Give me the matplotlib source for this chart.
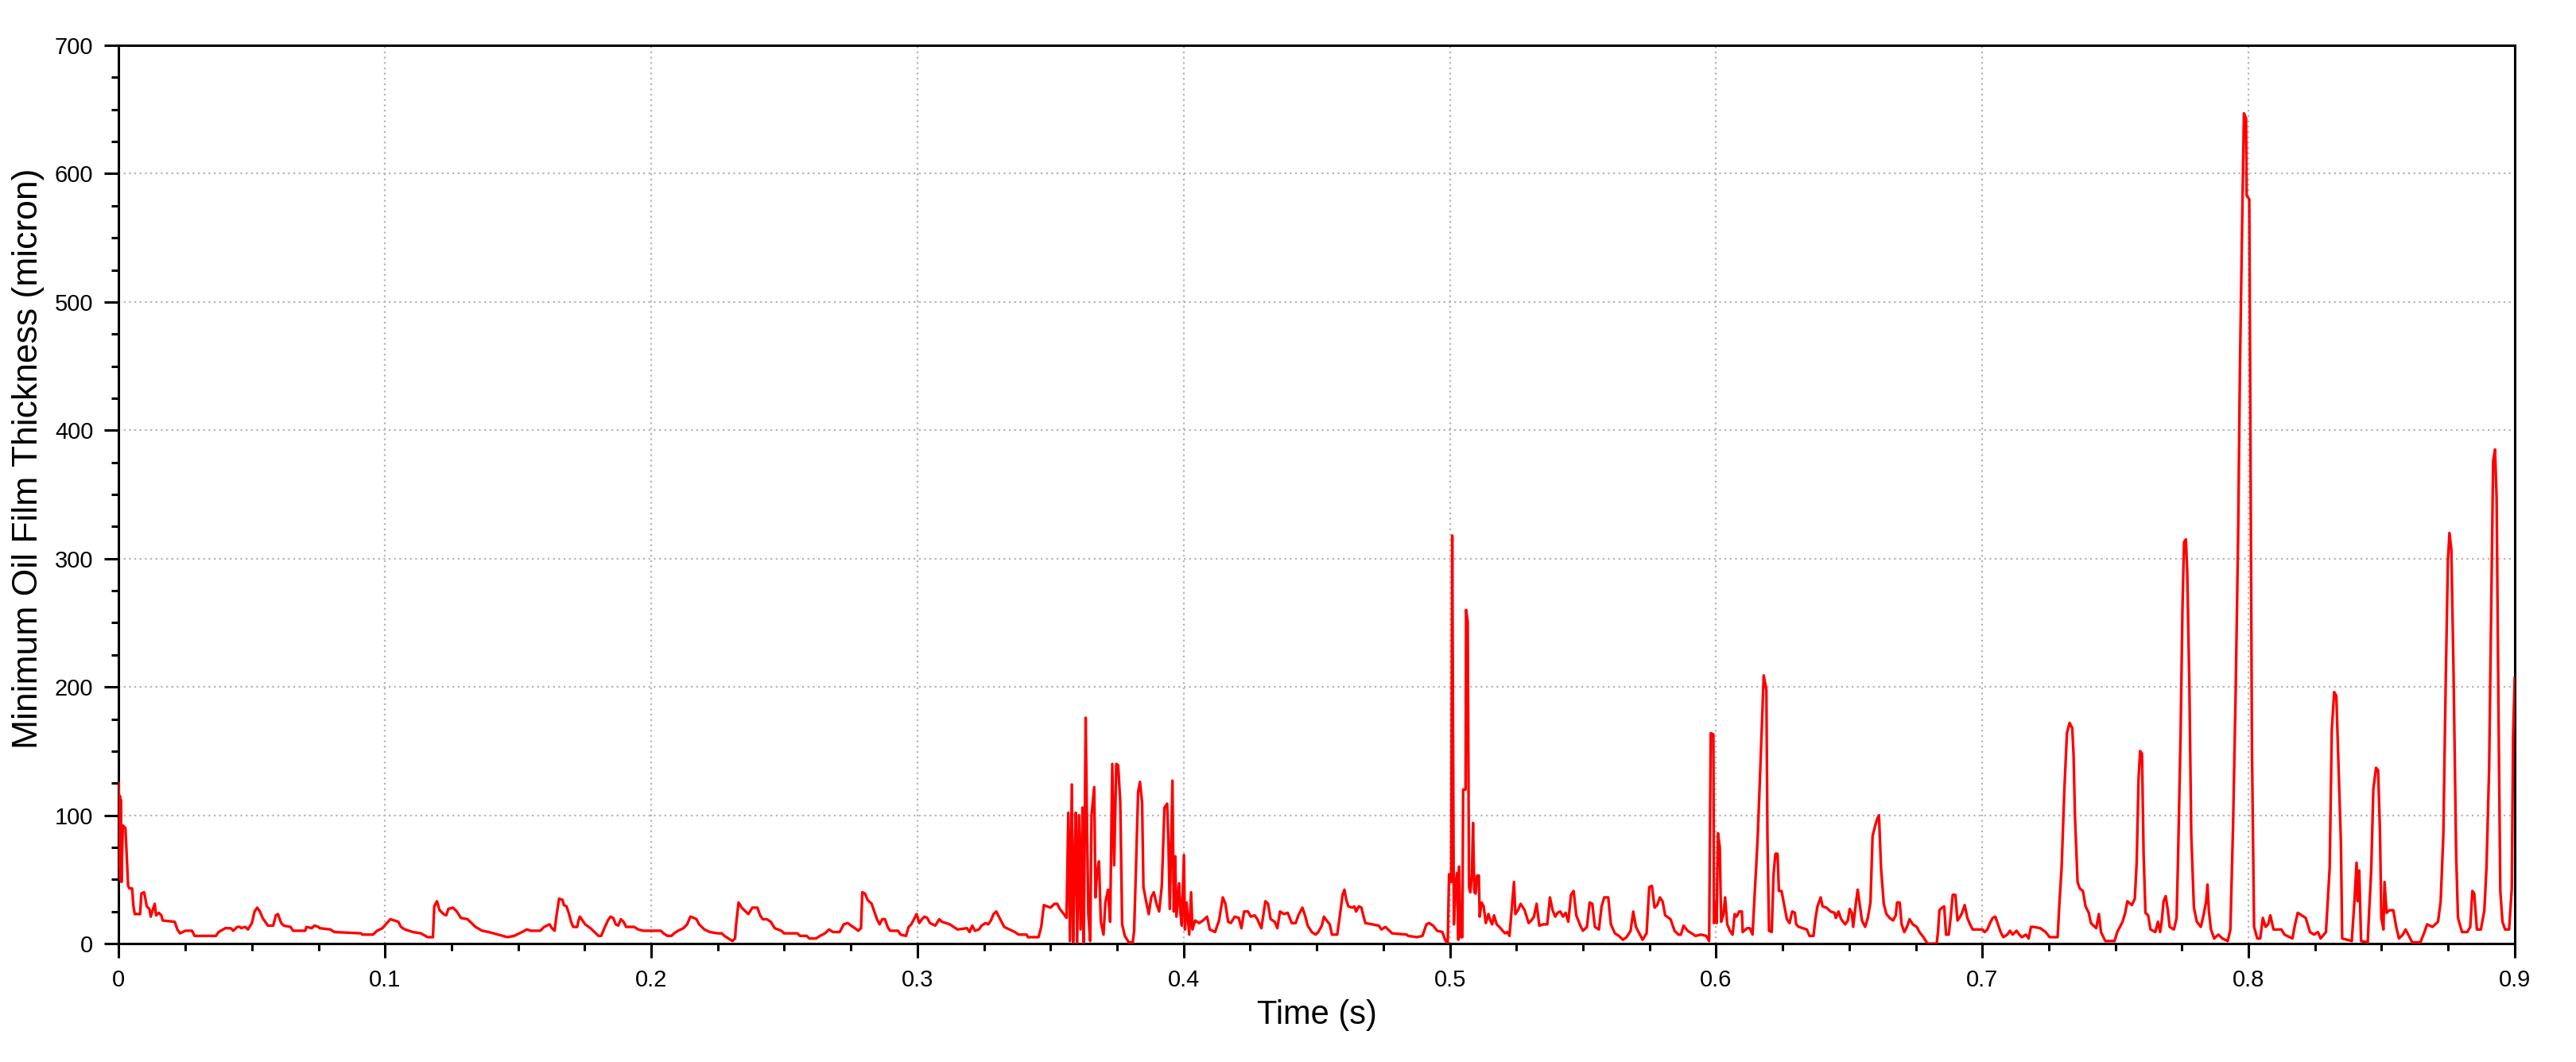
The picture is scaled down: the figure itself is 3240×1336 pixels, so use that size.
import matplotlib
matplotlib.use("Agg")
import matplotlib.pyplot as plt
from matplotlib.ticker import MultipleLocator

plt.rcParams['font.family'] = ['Liberation Sans', 'DejaVu Sans']

# time (s) and minimum oil film thickness (micron)
time_s = [
    0.0000, 0.0002, 0.0004, 0.0006, 0.0008, 0.0010, 0.0015, 0.0025, 0.0035, 0.0040,
    0.0050, 0.0055, 0.0060, 0.0080, 0.0085, 0.0095, 0.0100, 0.0105, 0.0115, 0.0120,
    0.0130, 0.0135, 0.0140, 0.0150, 0.0160, 0.0165, 0.0210, 0.0220, 0.0230, 0.0250,
    0.0275, 0.0285, 0.0365, 0.0375, 0.0400, 0.0420, 0.0430, 0.0445, 0.0455, 0.0460,
    0.0475, 0.0485, 0.0500, 0.0510, 0.0520, 0.0530, 0.0540, 0.0560, 0.0580, 0.0590,
    0.0598, 0.0610, 0.0620, 0.0645, 0.0655, 0.0700, 0.0705, 0.0725, 0.0735, 0.0750,
    0.0755, 0.0795, 0.0810, 0.0910, 0.0915, 0.0955, 0.0970, 0.0990, 0.1020, 0.1035,
    0.1050, 0.1060, 0.1075, 0.1105, 0.1135, 0.1160, 0.1180, 0.1185, 0.1195, 0.1205,
    0.1220, 0.1230, 0.1238, 0.1255, 0.1270, 0.1285, 0.1310, 0.1320, 0.1340, 0.1365,
    0.1390, 0.1425, 0.1460, 0.1485, 0.1515, 0.1533, 0.1548, 0.1583, 0.1598, 0.1618,
    0.1627, 0.1637, 0.1645, 0.1654, 0.1667, 0.1672, 0.1682, 0.1690, 0.1699, 0.1707,
    0.1722, 0.1727, 0.1732, 0.1742, 0.1752, 0.1772, 0.1787, 0.1802, 0.1812, 0.1822,
    0.1837, 0.1847, 0.1857, 0.1867, 0.1876, 0.1886, 0.1896, 0.1906, 0.1936, 0.1951,
    0.1971, 0.2036, 0.2046, 0.2061, 0.2076, 0.2086, 0.2101, 0.2121, 0.2135, 0.2147,
    0.2160, 0.2170, 0.2180, 0.2200, 0.2220, 0.2250, 0.2265, 0.2275, 0.2290, 0.2305,
    0.2315, 0.2318, 0.2328, 0.2340, 0.2355, 0.2365, 0.2380, 0.2399, 0.2409, 0.2419,
    0.2434, 0.2449, 0.2464, 0.2489, 0.2499, 0.2549, 0.2559, 0.2584, 0.2594, 0.2619,
    0.2634, 0.2653, 0.2668, 0.2683, 0.2708, 0.2723, 0.2738, 0.2758, 0.2778, 0.2788,
    0.2793, 0.2803, 0.2813, 0.2828, 0.2838, 0.2848, 0.2858, 0.2868, 0.2878, 0.2888,
    0.2897, 0.2927, 0.2937, 0.2957, 0.2967, 0.2977, 0.2987, 0.2997, 0.3007, 0.3017,
    0.3027, 0.3037, 0.3047, 0.3067, 0.3082, 0.3092, 0.3122, 0.3136, 0.3151, 0.3186,
    0.3196, 0.3206, 0.3216, 0.3231, 0.3241, 0.3256, 0.3266, 0.3276, 0.3286, 0.3296,
    0.3306, 0.3316, 0.3326, 0.3346, 0.3366, 0.3380, 0.3410, 0.3415, 0.3455, 0.3465,
    0.3475, 0.3500, 0.3515, 0.3525, 0.3535, 0.3550, 0.3560, 0.3567, 0.3573, 0.3580,
    0.3585, 0.3590, 0.3595, 0.3600, 0.3607, 0.3613, 0.3620, 0.3625, 0.3632, 0.3636,
    0.3642, 0.3649, 0.3654, 0.3664, 0.3669, 0.3674, 0.3682, 0.3689, 0.3699, 0.3706,
    0.3716, 0.3724, 0.3732, 0.3739, 0.3747, 0.3754, 0.3762, 0.3769, 0.3779, 0.3794,
    0.3809, 0.3814, 0.3819, 0.3829, 0.3836, 0.3844, 0.3849, 0.3859, 0.3869, 0.3878,
    0.3888, 0.3898, 0.3908, 0.3918, 0.3928, 0.3938, 0.3943, 0.3948, 0.3953, 0.3958,
    0.3963, 0.3968, 0.3973, 0.3983, 0.3988, 0.3993, 0.4001, 0.4005, 0.4011, 0.4021,
    0.4028, 0.4033, 0.4043, 0.4058, 0.4073, 0.4088, 0.4098, 0.4118, 0.4133, 0.4147,
    0.4157, 0.4167, 0.4177, 0.4192, 0.4207, 0.4217, 0.4227, 0.4242, 0.4252, 0.4267,
    0.4277, 0.4292, 0.4307, 0.4317, 0.4327, 0.4342, 0.4352, 0.4362, 0.4377, 0.4391,
    0.4406, 0.4421, 0.4431, 0.4446, 0.4456, 0.4466, 0.4481, 0.4496, 0.4506, 0.4519,
    0.4527, 0.4537, 0.4549, 0.4557, 0.4577, 0.4587, 0.4597, 0.4604, 0.4611, 0.4619,
    0.4634, 0.4641, 0.4648, 0.4658, 0.4668, 0.4676, 0.4683, 0.4708, 0.4733, 0.4743,
    0.4758, 0.4768, 0.4783, 0.4838, 0.4843, 0.4877, 0.4897, 0.4912, 0.4922, 0.4937,
    0.4952, 0.4972, 0.4982, 0.4992, 0.4997, 0.5005, 0.5009, 0.5015, 0.5022, 0.5027,
    0.5032, 0.5035, 0.5040, 0.5047, 0.5050, 0.5059, 0.5061, 0.5067, 0.5072, 0.5077,
    0.5083, 0.5087, 0.5092, 0.5097, 0.5102, 0.5109, 0.5112, 0.5119, 0.5127, 0.5135,
    0.5145, 0.5152, 0.5159, 0.5166, 0.5176, 0.5186, 0.5198, 0.5208, 0.5216, 0.5224,
    0.5234, 0.5241, 0.5246, 0.5256, 0.5266, 0.5281, 0.5296, 0.5306, 0.5316, 0.5326,
    0.5336, 0.5351, 0.5366, 0.5376, 0.5386, 0.5396, 0.5405, 0.5415, 0.5425, 0.5435,
    0.5445, 0.5455, 0.5465, 0.5475, 0.5490, 0.5500, 0.5515, 0.5525, 0.5535, 0.5545,
    0.5560, 0.5570, 0.5580, 0.5595, 0.5605, 0.5620, 0.5635, 0.5650, 0.5664, 0.5679,
    0.5689, 0.5699, 0.5714, 0.5724, 0.5739, 0.5749, 0.5759, 0.5769, 0.5779, 0.5789,
    0.5799, 0.5809, 0.5829, 0.5844, 0.5859, 0.5868, 0.5878, 0.5893, 0.5908, 0.5923,
    0.5943, 0.5963, 0.5974, 0.5980, 0.5990, 0.5992, 0.5997, 0.6002, 0.6007, 0.6014,
    0.6019, 0.6027, 0.6034, 0.6042, 0.6052, 0.6062, 0.6070, 0.6077, 0.6087, 0.6097,
    0.6100, 0.6117, 0.6127, 0.6137, 0.6146, 0.6156, 0.6166, 0.6173, 0.6179, 0.6189,
    0.6193, 0.6199, 0.6209, 0.6216, 0.6223, 0.6231, 0.6236, 0.6246, 0.6256, 0.6266,
    0.6276, 0.6286, 0.6296, 0.6301, 0.6311, 0.6326, 0.6341, 0.6351, 0.6366, 0.6373,
    0.6381, 0.6393, 0.6400, 0.6415, 0.6430, 0.6445, 0.6450, 0.6460, 0.6470, 0.6485,
    0.6495, 0.6502, 0.6510, 0.6515, 0.6525, 0.6532, 0.6540, 0.6548, 0.6560, 0.6570,
    0.6580, 0.6588, 0.6598, 0.6605, 0.6612, 0.6620, 0.6630, 0.6640, 0.6652, 0.6665,
    0.6675, 0.6680, 0.6690, 0.6697, 0.6707, 0.6717, 0.6727, 0.6739, 0.6754, 0.6764,
    0.6779, 0.6794, 0.6829, 0.6834, 0.6839, 0.6849, 0.6857, 0.6864, 0.6874, 0.6881,
    0.6889, 0.6899, 0.6907, 0.6917, 0.6924, 0.6934, 0.6944, 0.6954, 0.6964, 0.7001,
    0.7009, 0.7019, 0.7029, 0.7039, 0.7049, 0.7059, 0.7069, 0.7079, 0.7094, 0.7104,
    0.7114, 0.7129, 0.7139, 0.7149, 0.7164, 0.7174, 0.7183, 0.7193, 0.7218, 0.7238,
    0.7253, 0.7283, 0.7290, 0.7298, 0.7308, 0.7318, 0.7328, 0.7338, 0.7343, 0.7348,
    0.7358, 0.7366, 0.7378, 0.7388, 0.7400, 0.7408, 0.7428, 0.7438, 0.7446, 0.7462,
    0.7497, 0.7507, 0.7517, 0.7527, 0.7537, 0.7545, 0.7562, 0.7573, 0.7580, 0.7587,
    0.7593, 0.7600, 0.7606, 0.7613, 0.7623, 0.7632, 0.7650, 0.7660, 0.7668, 0.7674,
    0.7681, 0.7689, 0.7697, 0.7704, 0.7720, 0.7730, 0.7735, 0.7745, 0.7752, 0.7758,
    0.7765, 0.7770, 0.7778, 0.7785, 0.7795, 0.7806, 0.7821, 0.7831, 0.7841, 0.7846,
    0.7851, 0.7859, 0.7871, 0.7887, 0.7902, 0.7922, 0.7932, 0.7942, 0.7952, 0.7961,
    0.7968, 0.7978, 0.7983, 0.7991, 0.7993, 0.8003, 0.8008, 0.8013, 0.8021, 0.8033,
    0.8044, 0.8054, 0.8064, 0.8074, 0.8082, 0.8094, 0.8124, 0.8135, 0.8165, 0.8175,
    0.8185, 0.8200, 0.8215, 0.8231, 0.8246, 0.8261, 0.8271, 0.8291, 0.8305, 0.8313,
    0.8322, 0.8330, 0.8337, 0.8347, 0.8352, 0.8388, 0.8398, 0.8406, 0.8410, 0.8416,
    0.8423, 0.8448, 0.8453, 0.8461, 0.8469, 0.8479, 0.8487, 0.8494, 0.8499, 0.8507,
    0.8511, 0.8519, 0.8529, 0.8544, 0.8555, 0.8565, 0.8580, 0.8590, 0.8600, 0.8615,
    0.8646, 0.8661, 0.8671, 0.8691, 0.8712, 0.8722, 0.8732, 0.8740, 0.8749, 0.8755,
    0.8762, 0.8770, 0.8780, 0.8787, 0.8802, 0.8822, 0.8833, 0.8841, 0.8848, 0.8858,
    0.8873, 0.8886, 0.8894, 0.8904, 0.8912, 0.8919, 0.8926, 0.8932, 0.8939, 0.8946,
    0.8954, 0.8964, 0.8979, 0.8989, 0.8994, 0.9000,
]

film_um = [
    125, 60, 115, 50, 112, 48, 92, 90, 45, 43,
    43, 29, 23, 23, 39, 40, 35, 29, 27, 21,
    28, 31, 22, 24, 22, 18, 17, 11, 8, 10,
    10, 6, 6, 9, 12, 12, 10, 13, 13, 12,
    13, 11, 16, 25, 28, 25, 20, 14, 14, 22,
    23, 16, 14, 13, 10, 10, 13, 12, 14, 13,
    12, 11, 9, 8, 7, 7, 10, 12, 19, 18,
    17, 13, 11, 9, 8, 5, 5, 29, 33, 26,
    23, 22, 27, 28, 25, 20, 19, 17, 13, 10,
    9, 7, 5, 6, 9, 11, 10, 10, 13, 15,
    12, 10, 23, 35, 34, 30, 29, 24, 17, 13,
    13, 18, 21, 18, 15, 12, 9, 6, 6, 11,
    18, 21, 20, 15, 14, 19, 17, 13, 13, 11,
    10, 10, 8, 6, 6, 8, 10, 12, 15, 21,
    20, 19, 15, 11, 9, 8, 8, 6, 4, 2,
    4, 13, 32, 28, 25, 23, 28, 28, 22, 19,
    19, 17, 12, 10, 8, 8, 6, 6, 4, 4,
    6, 8, 11, 9, 9, 15, 16, 13, 10, 12,
    40, 39, 34, 31, 25, 19, 15, 19, 19, 13,
    10, 10, 7, 6, 13, 15, 19, 23, 16, 19,
    21, 20, 16, 14, 19, 17, 15, 13, 11, 12,
    9, 14, 10, 11, 14, 16, 15, 18, 23, 25,
    21, 17, 13, 11, 9, 7, 7, 5, 5, 13,
    30, 28, 31, 31, 27, 23, 20, 102, 2, 124,
    1, 61, 102, 0, 100, 11, 106, 0, 176, 109,
    23, 2, 100, 122, 36, 54, 64, 17, 7, 32,
    42, 17, 140, 61, 140, 139, 110, 15, 6, 1,
    1, 10, 45, 118, 126, 110, 44, 33, 23, 36,
    40, 31, 25, 45, 106, 109, 78, 27, 77, 127,
    25, 68, 21, 47, 24, 14, 69, 11, 32, 7,
    40, 11, 18, 16, 18, 21, 11, 9, 18, 36,
    31, 17, 16, 21, 20, 12, 25, 25, 21, 22,
    19, 12, 33, 31, 19, 17, 12, 25, 23, 24,
    16, 16, 22, 28, 22, 14, 9, 7, 9, 14,
    21, 18, 15, 7, 7, 22, 38, 42, 34, 29,
    28, 29, 25, 29, 28, 21, 16, 15, 14, 11,
    13, 11, 8, 7, 6, 5, 6, 15, 16, 14,
    10, 9, 3, 0, 54, 48, 318, 15, 47, 55,
    3, 60, 5, 5, 120, 120, 260, 251, 44, 40,
    54, 94, 40, 39, 53, 53, 21, 32, 29, 16,
    23, 18, 15, 22, 15, 13, 10, 8, 9, 6,
    31, 48, 23, 26, 31, 26, 16, 18, 21, 31,
    14, 15, 15, 36, 26, 21, 24, 25, 21, 24,
    17, 38, 41, 22, 14, 10, 13, 32, 31, 13,
    11, 29, 36, 36, 15, 8, 6, 3, 5, 10,
    25, 13, 7, 3, 8, 44, 45, 28, 30, 36,
    33, 22, 19, 10, 7, 7, 14, 10, 8, 6,
    7, 6, 2, 164, 163, 16, 32, 16, 86, 75,
    17, 22, 36, 15, 10, 7, 23, 21, 25, 25,
    9, 12, 12, 7, 42, 81, 135, 175, 209, 198,
    84, 10, 9, 54, 70, 70, 41, 41, 30, 19,
    16, 25, 24, 15, 13, 12, 11, 6, 6, 19,
    29, 36, 29, 28, 25, 24, 20, 25, 19, 15,
    18, 27, 24, 13, 31, 42, 30, 18, 13, 20,
    32, 84, 92, 97, 100, 58, 31, 23, 20, 18,
    22, 32, 32, 15, 9, 13, 19, 15, 13, 9,
    5, 0, 0, 10, 26, 28, 29, 7, 7, 20,
    38, 38, 18, 21, 24, 30, 20, 15, 11, 11,
    9, 11, 16, 20, 21, 15, 9, 5, 7, 10,
    7, 10, 7, 5, 7, 4, 13, 13, 12, 9,
    5, 5, 32, 59, 118, 164, 172, 168, 147, 100,
    48, 43, 41, 29, 24, 16, 12, 23, 9, 2,
    2, 9, 13, 17, 24, 33, 30, 35, 63, 128,
    150, 148, 70, 24, 22, 11, 9, 17, 9, 17,
    33, 37, 26, 13, 11, 20, 63, 163, 261, 313,
    315, 289, 200, 85, 28, 17, 13, 22, 33, 46,
    26, 11, 4, 7, 4, 2, 11, 91, 198, 317,
    450, 585, 647, 643, 583, 580, 372, 152, 13, 4,
    4, 20, 13, 15, 22, 11, 11, 7, 4, 15,
    24, 22, 20, 9, 7, 9, 4, 9, 59, 167,
    196, 193, 146, 80, 4, 2, 33, 63, 33, 57,
    2, 1, 24, 57, 120, 137, 135, 87, 20, 11,
    48, 24, 26, 26, 13, 4, 7, 11, 7, 1,
    1, 9, 15, 13, 17, 33, 85, 193, 298, 320,
    307, 215, 70, 20, 9, 9, 13, 41, 39, 11,
    11, 26, 59, 137, 267, 376, 385, 348, 185, 41,
    17, 11, 11, 43, 161, 207,
]

x_ticks = [0, 0.1, 0.2, 0.3, 0.4, 0.5, 0.6, 0.7, 0.8, 0.9]
x_labels = ['0', '0.1', '0.2', '0.3', '0.4', '0.5', '0.6', '0.7', '0.8', '0.9']
y_ticks = [0, 100, 200, 300, 400, 500, 600, 700]

fig = plt.figure(figsize=(32.41, 13.36), dpi=100)
ax = fig.add_axes([0.0461, 0.1115, 0.9298, 0.8458])

ax.plot(time_s, film_um, color='#ff0000', linewidth=2.4, zorder=3)

ax.set_xlim(0, 0.9)
ax.set_ylim(0, 700)
ax.set_xticks(x_ticks)
ax.set_xticklabels(x_labels)
ax.set_yticks(y_ticks)
ax.xaxis.set_minor_locator(MultipleLocator(0.025))
ax.yaxis.set_minor_locator(MultipleLocator(25))

ax.grid(True, which='major', color='#b4b4b4', linestyle=(0, (1, 2)), linewidth=1.6)
ax.set_axisbelow(True)

for s in ax.spines.values():
    s.set_linewidth(2.2)
    s.set_color('black')

ax.tick_params(which='major', direction='out', length=13, width=2.2,
               labelsize=21, pad=10, colors='black')
ax.tick_params(which='minor', direction='out', length=6.5, width=2.2)
ax.tick_params(top=False, right=False, which='both')

ax.set_xlabel('Time (s)', fontsize=30)
ax.set_ylabel('Minimum Oil Film Thickness (micron)', fontsize=32)
ax.xaxis.set_label_coords(0.5, -0.062)
ax.yaxis.set_label_coords(-0.031, 0.54)

fig.savefig('out.png', dpi=100)
